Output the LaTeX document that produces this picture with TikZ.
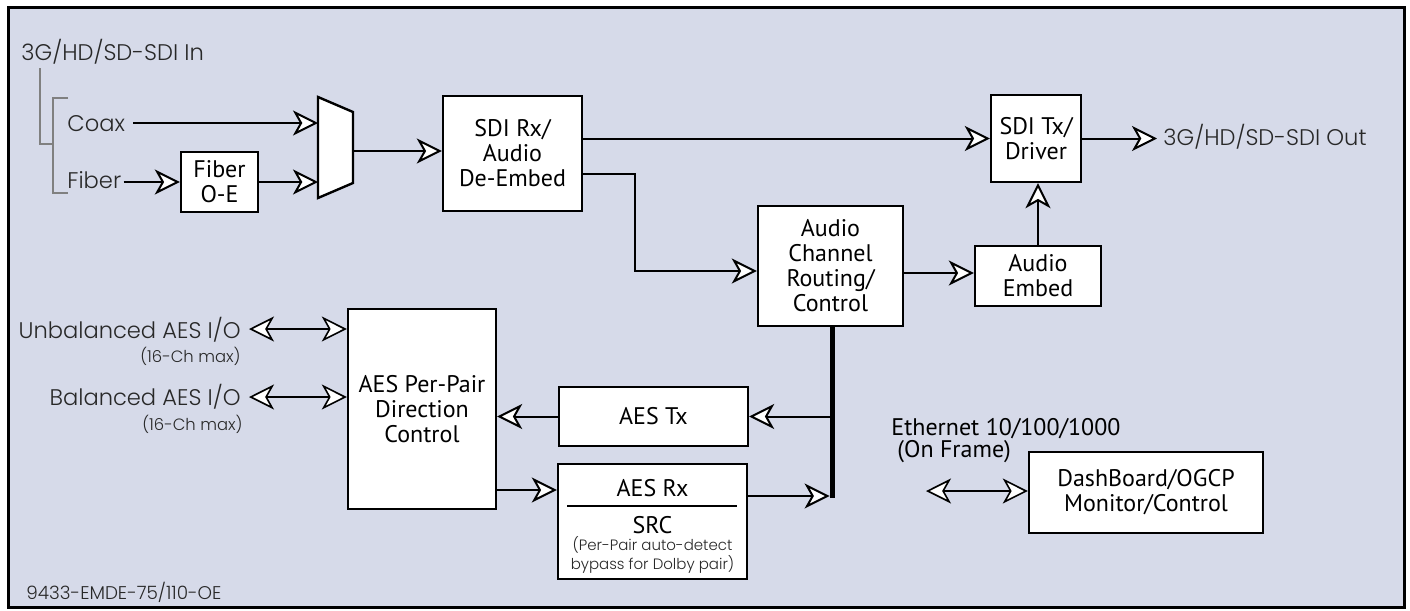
\documentclass[tikz,border=0pt]{standalone}
\usepackage{fontspec}
\setmainfont{PT Sans}
\newfontfamily\futura{Poppins Light}
\usetikzlibrary{arrows.meta}
\definecolor{bg}{RGB}{214,218,233}
\definecolor{lbl}{RGB}{40,40,40}
\begin{document}
\begin{tikzpicture}[x=0.5pt,y=-0.5pt,
  >={Stealth[open,fill=white,length=12.5pt,width=12.5pt,inset=3.5pt]},
  box/.style={draw,line width=1.2pt,fill=white,align=center,inner sep=0pt,font=\fontsize{12}{12.5}\selectfont},
  btext/.style={inner sep=0pt,font=\fontsize{12}{12.5}\selectfont},
  wire/.style={line width=1pt},
  dwire/.style={line width=0.8pt},
  lab/.style={inner sep=0pt,text=lbl,font=\futura\fontsize{11.3}{12}\selectfont},
  small/.style={inner sep=0pt,text=lbl,align=center,font=\futura\fontsize{8.2}{8.5}\selectfont},
  brk/.style={line width=0.6pt,draw=gray}
]
\useasboundingbox (0,0) rectangle (1410,611);
\draw[line width=1.5pt,fill=bg] (8,7) rectangle (1404,607);

% boxes
\node[box,minimum width=38.5pt,minimum height=30pt] (foe) at (219.5,182) {Fiber\\O-E};
\node[box,minimum width=69.5pt,minimum height=57.5pt] (rx) at (512.5,153.5) {SDI Rx/\\Audio\\De-Embed};
\node[box,minimum width=45pt,minimum height=43.5pt] (tx) at (1036,138.5) {SDI Tx/\\Driver};
\node[box,minimum width=72.5pt,minimum height=60pt] (acr) at (830.5,266) {Audio\\Channel\\Routing/\\Control};
\node[box,minimum width=63pt,minimum height=30pt] (emb) at (1038,276) {Audio\\Embed};
\node[box,minimum width=74pt,minimum height=100pt] (pp) at (422,409) {AES Per-Pair\\Direction\\Control};
\node[box,minimum width=94.5pt,minimum height=29.5pt] (atx) at (653.5,416.5) {AES Tx};
\node[box,minimum width=94.5pt,minimum height=57.5pt] (arx) at (652.5,521.5) {};
\node[box,minimum width=117pt,minimum height=40.5pt] (dash) at (1146,492.5) {DashBoard/OGCP\\Monitor/Control};

% AES Rx contents
\node[btext] (arxt) at (652.5,488) {AES Rx};
\draw[line width=0.8pt] (567,506) -- (737,506);
\node[btext] (src) at (652.5,525) {SRC};
\node[small,font=\futura\fontsize{7.5}{7.5}\selectfont] (srcn) at (652.5,555) {(Per-Pair auto-detect\\bypass for Dolby pair)};

% mux
\draw[line width=1.2pt,fill=white] (318,97) -- (353,112) -- (353,183) -- (318,198) -- cycle;
\coordinate (muxa) at (318,123);
\coordinate (muxb) at (318,182);
\coordinate (muxo) at (353,151);

% labels
\node[lab,anchor=base west] (in) at (21,60) {3G/HD/SD-SDI In};
\node[lab,anchor=base west] (coax) at (67,131) {Coax};
\node[lab,anchor=base west] (fib) at (67,188) {Fiber};
\node[lab,anchor=base west] (out) at (1163,145) {3G/HD/SD-SDI Out};
\node[lab,anchor=base east] (unb) at (241,338) {Unbalanced AES I/O};
\node[small,anchor=base east] (unbn) at (241,362) {(16-Ch max)};
\node[lab,anchor=base east] (bal) at (241,405) {Balanced AES I/O};
\node[small,anchor=base east] (baln) at (243,430) {(16-Ch max)};
\node[lab,anchor=base west,font=\futura\fontsize{9.2}{10}\selectfont] (code) at (26,599) {9433-EMDE-75/110-OE};
\node[btext,anchor=base west] (eth) at (891,435) {Ethernet 10/100/1000};
\node[btext,anchor=base west] (onf) at (897,457) {(On Frame)};

% bracket
\draw[brk] (40,68) -- (40,144) -- (53,144);
\draw[brk] (68,98) -- (53,98) -- (53,193) -- (68,193);

% connectors
\draw[wire,->] ([xshift=4pt]coax.east |- muxa) -- (muxa);
\draw[wire,->] ([xshift=1pt]fib.east |- foe.west) -- (foe.west);
\draw[wire,->] (foe.east) -- (muxb);
\draw[wire,->] (muxo) -- (muxo -| rx.west);
\draw[wire,->] (rx.east |- tx.west) -- (tx.west);
\draw[wire,->] ([yshift=-10.25pt]rx.east) -| ([xshift=-61pt,yshift=-2.5pt]acr.west) -- ([yshift=-2.5pt]acr.west);
\coordinate (embin) at ([yshift=1.5pt]emb.west);
\draw[wire,->] (acr.east |- embin) -- (embin);
\draw[wire,->] (emb.north) -- (emb.north |- tx.south);
\coordinate (outa) at ([xshift=-3pt]out.west);
\draw[wire,->] (tx.east) -- (outa |- tx.east);

\coordinate (busb) at (832,498);
\draw[line width=2.5pt] (acr.south -| busb) -- (busb);
\draw[wire,->] (busb |- atx.east) -- (atx.east);
\draw[wire,->] (atx.west) -- (atx.west -| pp.east);
\coordinate (ppo) at ([yshift=-40.5pt]pp.east);
\draw[wire,->] (ppo) -- (ppo -| arx.west);
\coordinate (arxo) at ([yshift=12.75pt]arx.east);
\draw[wire,->,shorten >=1.2pt] (arxo) -- (arxo -| busb);

\coordinate (ua) at (249,329);
\coordinate (ba) at (249,397);
\coordinate (ea) at (926,491);
\draw[dwire,<->] (ua) -- (ua -| pp.west);
\draw[dwire,<->] (ba) -- (ba -| pp.west);
\draw[dwire,<->] (ea) -- (ea -| dash.west);
\end{tikzpicture}
\end{document}
